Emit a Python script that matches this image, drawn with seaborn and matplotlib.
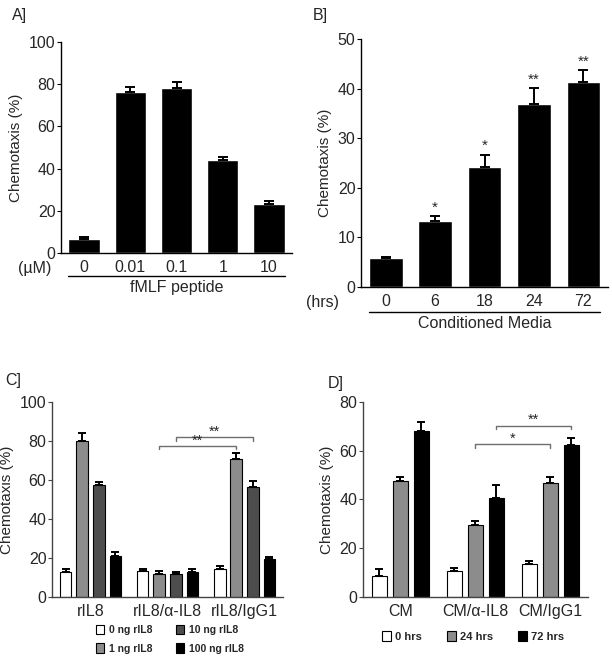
import matplotlib
matplotlib.use("Agg")
import matplotlib.pyplot as plt
import matplotlib.transforms as mtransforms
import pandas as pd
import seaborn as sns

# panel A: fMLF peptide
a_conc = ["0", "0.01", "0.1", "1", "10"]
a_mean = [6.6, 76.1, 78.1, 43.9, 23.1]
a_err = [0.8, 2.6, 3.0, 1.6, 1.3]

# panel B: conditioned media
b_hrs = ["0", "6", "18", "24", "72"]
b_mean = [5.8, 13.4, 24.2, 37.0, 41.3]
b_err = [0.2, 0.9, 2.5, 3.1, 2.4]
b_sig = ["", "*", "*", "**", "**"]

# panel C: rIL8
c_groups = ["rIL8", "rIL8/α-IL8", "rIL8/IgG1"]
c_doses = ["0 ng rIL8", "1 ng rIL8", "10 ng rIL8", "100 ng rIL8"]
c_mean = [[12.6, 13.2, 14.5],
          [80.0, 11.6, 70.6],
          [57.4, 12.0, 56.2],
          [21.2, 13.0, 19.5]]
c_err = [[1.6, 1.0, 1.2],
         [3.9, 1.6, 3.1],
         [1.7, 0.8, 3.3],
         [1.7, 1.2, 1.0]]
c_colors = ["white", "#8c8c8c", "#4d4d4d", "black"]

# panel D: CM
d_groups = ["CM", "CM/α-IL8", "CM/IgG1"]
d_times = ["0 hrs", "24 hrs", "72 hrs"]
d_mean = [[8.6, 10.5, 13.7],
          [47.6, 29.7, 46.9],
          [67.9, 40.8, 62.4]]
d_err = [[2.9, 1.3, 1.2],
         [1.5, 1.4, 2.5],
         [3.8, 5.2, 2.7]]
d_colors = ["white", "#8c8c8c", "black"]

sns.set_style("ticks")
plt.rcParams["font.family"] = ["Liberation Sans", "DejaVu Sans"]
plt.rcParams["font.size"] = 11

fig = plt.figure(figsize=(6.12, 6.6), dpi=100)


def style_axes(ax, spine_color="black"):
    sns.despine(ax=ax)
    for s in ["left", "bottom"]:
        ax.spines[s].set_linewidth(1.0)
        ax.spines[s].set_color(spine_color)
    ax.tick_params(axis="y", length=3, width=0.8, labelsize=11.5, pad=1,
                   color=spine_color)
    ax.tick_params(axis="x", length=0, labelsize=11.5, pad=5)
    ax.set_xlabel("")
    ax.set_ylabel("Chemotaxis (%)", fontsize=11, labelpad=4)


def add_errbars(ax, bars, errs, capsize):
    for bar, e in zip(bars, errs):
        x = bar.get_x() + bar.get_width() / 2
        y = bar.get_height()
        ax.errorbar(x, y, yerr=[[0], [e]], fmt="none", ecolor="black",
                    elinewidth=1.4, capsize=capsize, capthick=1.4, zorder=1)


def single_panel(rect, cats, means, errs, ymax, ystep, unit, title,
                 unit_x, lab_y, line_y, title_y, sig=None):
    ax = fig.add_axes(rect)
    sns.barplot(x=cats, y=means, color="black", width=0.68, ax=ax,
                saturation=1, errorbar=None)
    bars = list(ax.patches)
    add_errbars(ax, bars, errs, capsize=3.8)
    ax.set_ylim(0, ymax)
    ax.set_yticks(range(0, ymax + 1, ystep))
    ax.set_xlim(-0.5, len(cats) - 0.5)
    style_axes(ax)
    tr = mtransforms.blended_transform_factory(ax.transData, ax.transAxes)
    ax.text(unit_x, lab_y, unit, transform=tr, ha="center", va="top",
            fontsize=11.5)
    x0 = bars[0].get_x()
    x1 = bars[-1].get_x() + bars[-1].get_width()
    ax.plot([x0, x1], [line_y, line_y], transform=tr, color="black",
            lw=1.0, clip_on=False)
    ax.text((x0 + x1) / 2, title_y, title, transform=tr, ha="center",
            va="center", fontsize=11.5)
    if sig is not None:
        for bar, e, s in zip(bars, errs, sig):
            if s:
                ax.annotate(s, (bar.get_x() + bar.get_width() / 2,
                                bar.get_height() + e),
                            xytext=(0, 1), textcoords="offset points",
                            ha="center", va="bottom", fontsize=11)
    return ax


def bracket(ax, b1, b2, y, text, h):
    x1 = b1.get_x() + b1.get_width() / 2
    x2 = b2.get_x() + b2.get_width() / 2
    ax.plot([x1, x1, x2, x2], [y - h, y, y, y - h], color="#6e6e6e",
            lw=1.0, clip_on=False)
    ax.annotate(text, ((x1 + x2) / 2, y), xytext=(0, -1),
                textcoords="offset points", ha="center", va="bottom",
                fontsize=10.5)


def grouped_panel(rect, groups, levels, means, errs, colors, ymax, ystep,
                  width, leg_anchor, leg_ncol, leg_size, leg_colsp, leg_sp):
    ax = fig.add_axes(rect)
    rows = []
    for lev, vals in zip(levels, means):
        for g, v in zip(groups, vals):
            rows.append({"group": g, "level": lev, "value": v})
    df = pd.DataFrame(rows)
    sns.barplot(data=df, x="group", y="value", hue="level", order=groups,
                hue_order=levels, palette=colors, width=width, gap=0.3,
                edgecolor="black", linewidth=0.8, saturation=1,
                errorbar=None, ax=ax)
    for cont, e in zip(ax.containers, errs):
        add_errbars(ax, list(cont), e, capsize=2.8)
    ax.set_ylim(0, ymax)
    ax.set_yticks(range(0, ymax + 1, ystep))
    ax.set_xlim(-0.5, len(groups) - 0.5)
    style_axes(ax, spine_color="#444444")
    handles, labels = ax.get_legend_handles_labels()
    ax.legend(handles, labels, loc="upper center", bbox_to_anchor=leg_anchor,
              ncol=leg_ncol, frameon=False, handlelength=0.8,
              handleheight=1.0, handletextpad=0.4, columnspacing=leg_colsp,
              labelspacing=leg_sp, prop={"weight": "bold", "size": leg_size})
    return ax


# A
single_panel([0.0997, 0.6167, 0.3775, 0.3197], a_conc, a_mean, a_err,
             100, 20, "(µM)", "fMLF peptide",
             unit_x=-1.06, lab_y=-0.036, line_y=-0.109, title_y=-0.163)

# B
single_panel([0.590, 0.565, 0.4036, 0.3758], b_hrs, b_mean, b_err,
             50, 10, "(hrs)", "Conditioned Media",
             unit_x=-1.28, lab_y=-0.032, line_y=-0.101, title_y=-0.146,
             sig=b_sig)

# C
ax_c = grouped_panel([0.085, 0.0955, 0.3775, 0.2955], c_groups, c_doses,
                     c_mean, c_err, c_colors, 100, 20, 0.86,
                     (0.51, -0.095), 2, 7.5, 2.3, 0.8)
cc = ax_c.containers
bracket(ax_c, cc[1][1], cc[1][2], 77.4, "**", 1.7)
bracket(ax_c, cc[2][1], cc[2][2], 81.9, "**", 1.7)

# D
ax_d = grouped_panel([0.593, 0.0955, 0.3676, 0.2955], d_groups, d_times,
                     d_mean, d_err, d_colors, 80, 20, 0.84,
                     (0.49, -0.125), 3, 8, 2.2, 0.5)
dc = ax_d.containers
bracket(ax_d, dc[1][1], dc[1][2], 62.6, "*", 1.5)
bracket(ax_d, dc[2][1], dc[2][2], 70.2, "**", 1.5)

fig.text(0.032, 0.977, "A]", fontsize=11.5, ha="center", va="center")
fig.text(0.523, 0.977, "B]", fontsize=11.5, ha="center", va="center")
fig.text(0.022, 0.424, "C]", fontsize=11.5, ha="center", va="center")
fig.text(0.548, 0.419, "D]", fontsize=11.5, ha="center", va="center")

fig.savefig("out.png", dpi=100)
